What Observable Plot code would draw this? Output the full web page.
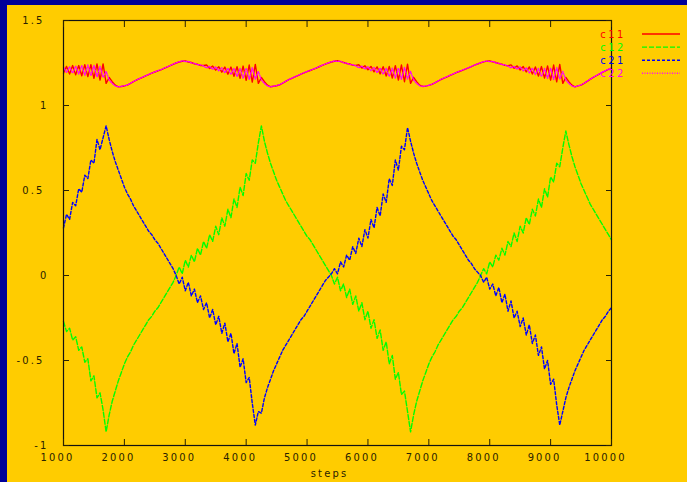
<!DOCTYPE html>
<html><head><meta charset="utf-8">
<script src="https://cdn.jsdelivr.net/npm/d3@7"></script>
<script src="https://cdn.jsdelivr.net/npm/@observablehq/plot@0.6"></script>
<style>
html,body{margin:0;padding:0;background:#000099;width:687px;height:482px;overflow:hidden}
#chart{position:absolute;left:7px;top:5px;width:680px;height:477px;background:#ffcc00;overflow:hidden}
</style></head><body><div id="chart"></div>
<script>
const steps = [1000,1050,1100,1150,1200,1250,1300,1350,1400,1450,1500,1550,1600,1650,1700,1750,1800,1850,1900,1950,
2000,2050,2100,2150,2200,2250,2300,2350,2400,2450,2500,2550,2600,2650,2700,2750,2800,2850,2900,2950,
3000,3050,3100,3150,3200,3250,3300,3350,3400,3450,3500,3550,3600,3650,3700,3750,3800,3850,3900,3950,
4000,4050,4100,4150,4200,4250,4300,4350,4400,4450,4500,4550,4600,4650,4700,4750,4800,4850,4900,4950,
5000,5050,5100,5150,5200,5250,5300,5350,5400,5450,5500,5550,5600,5650,5700,5750,5800,5850,5900,5950,
6000,6050,6100,6150,6200,6250,6300,6350,6400,6450,6500,6550,6600,6650,6700,6750,6800,6850,6900,6950,
7000,7050,7100,7150,7200,7250,7300,7350,7400,7450,7500,7550,7600,7650,7700,7750,7800,7850,7900,7950,
8000,8050,8100,8150,8200,8250,8300,8350,8400,8450,8500,8550,8600,8650,8700,8750,8800,8850,8900,8950,
9000,9050,9100,9150,9200,9250,9300,9350,9400,9450,9500,9550,9600,9650,9700,9750,9800,9850,9900,9950,10000];

const c11 = [
1.19,1.23,1.185,1.235,1.18,1.235,1.175,1.24,1.17,1.24,1.16,1.245,1.15,1.245,1.13,1.165,1.14,1.12,1.11,
1.112,1.115,1.12,1.13,1.14,1.15,1.158,1.166,1.174,1.182,1.19,1.197,1.204,1.21,1.218,1.226,1.234,1.242,1.25,1.256,
1.26,1.262,1.256,1.253,1.245,1.243,1.235,1.235,1.238,1.218,1.232,1.208,1.228,1.196,1.226,1.184,1.226,1.172,1.228,1.16,
1.232,1.148,1.238,1.138,1.242,1.13,1.165,1.14,1.12,1.11,
1.113,1.116,1.122,1.131,1.142,1.152,1.16,1.168,1.176,1.184,1.192,1.199,1.206,1.213,1.22,1.228,1.236,1.243,1.25,1.256,
1.26,1.263,1.258,1.254,1.247,1.244,1.237,1.236,1.24,1.22,1.234,1.21,1.23,1.198,1.228,1.186,1.228,1.174,1.23,1.162,
1.234,1.15,1.238,1.14,1.243,1.13,1.166,1.14,1.12,1.112,
1.114,1.118,1.124,1.133,1.143,1.153,1.161,1.169,1.177,1.185,1.193,1.2,1.207,1.214,1.221,1.229,1.237,1.244,1.251,1.257,
1.261,1.262,1.257,1.253,1.246,1.243,1.236,1.234,1.239,1.219,1.233,1.209,1.229,1.197,1.227,1.185,1.227,1.173,1.229,1.161,
1.233,1.149,1.238,1.139,1.242,1.13,1.165,1.14,1.12,1.11,
1.115,1.12,1.13,1.142,1.154,1.165,1.175,1.185,1.195,1.204,1.212,1.22];

const c12 = [
-0.27,-0.33,-0.31,-0.38,-0.36,-0.44,-0.42,-0.51,-0.49,-0.62,-0.59,-0.72,-0.69,-0.79,-0.92,
-0.82,-0.74,-0.68,-0.62,-0.57,-0.52,-0.48,-0.45,-0.41,-0.38,-0.35,-0.32,-0.29,-0.26,-0.24,-0.21,-0.19,-0.16,-0.13,-0.10,-0.07,-0.04,0.00,
0.05,0.01,0.09,0.05,0.12,0.08,0.16,0.12,0.20,0.16,0.24,0.20,0.29,0.24,0.34,0.29,0.39,0.34,0.45,0.40,0.52,0.47,0.60,0.56,0.68,0.66,0.78,0.88,
0.79,0.72,0.66,0.61,0.56,0.52,0.48,0.44,0.41,0.38,0.35,0.32,0.29,0.26,0.23,0.21,0.18,0.15,0.12,0.09,0.06,0.03,0.00,
-0.05,-0.01,-0.09,-0.05,-0.13,-0.08,-0.17,-0.12,-0.21,-0.16,-0.26,-0.21,-0.31,-0.26,-0.37,-0.32,-0.44,-0.39,-0.52,-0.47,-0.61,-0.57,-0.70,-0.68,-0.80,-0.92,
-0.82,-0.74,-0.68,-0.62,-0.57,-0.52,-0.48,-0.45,-0.41,-0.38,-0.35,-0.32,-0.29,-0.26,-0.24,-0.21,-0.19,-0.16,-0.13,-0.10,-0.07,-0.04,0.00,
0.04,0.01,0.08,0.05,0.12,0.09,0.16,0.12,0.20,0.17,0.25,0.20,0.29,0.25,0.34,0.30,0.39,0.35,0.45,0.40,0.51,0.46,0.58,0.55,0.66,0.64,0.75,0.85,
0.77,0.70,0.64,0.59,0.54,0.50,0.46,0.42,0.39,0.36,0.33,0.30,0.27,0.24,0.21];

const c21 = [
0.28,0.36,0.33,0.43,0.41,0.51,0.49,0.59,0.57,0.68,0.66,0.80,0.74,0.81,0.88,
0.80,0.73,0.67,0.62,0.57,0.52,0.48,0.45,0.41,0.38,0.35,0.32,0.29,0.26,0.24,0.21,0.19,0.16,0.13,0.10,0.07,0.04,0.00,
-0.05,-0.01,-0.09,-0.04,-0.12,-0.08,-0.16,-0.12,-0.20,-0.16,-0.25,-0.20,-0.29,-0.24,-0.34,-0.28,-0.39,-0.34,-0.46,-0.40,-0.54,-0.49,-0.63,-0.60,-0.75,-0.88,
-0.80,-0.81,-0.72,-0.66,-0.61,-0.56,-0.52,-0.48,-0.44,-0.41,-0.38,-0.35,-0.32,-0.29,-0.26,-0.24,-0.21,-0.18,-0.15,-0.12,-0.09,-0.06,-0.03,-0.01,0.01,
0.04,0.01,0.08,0.05,0.12,0.09,0.17,0.13,0.22,0.17,0.27,0.22,0.33,0.28,0.40,0.35,0.48,0.43,0.57,0.53,0.68,0.62,0.76,0.74,0.87,
0.79,0.72,0.66,0.61,0.56,0.52,0.48,0.44,0.41,0.38,0.35,0.32,0.29,0.26,0.23,0.21,0.18,0.15,0.12,0.09,0.07,0.04,0.02,0.00,
-0.04,-0.01,-0.08,-0.05,-0.12,-0.07,-0.16,-0.11,-0.21,-0.15,-0.25,-0.21,-0.30,-0.25,-0.35,-0.29,-0.40,-0.35,-0.47,-0.42,-0.55,-0.50,-0.64,-0.61,-0.76,-0.88,
-0.80,-0.72,-0.66,-0.61,-0.56,-0.52,-0.48,-0.44,-0.41,-0.38,-0.35,-0.32,-0.29,-0.26,-0.24,-0.21,-0.19];

const c22 = [
1.225,1.195,1.228,1.19,1.232,1.185,1.235,1.178,1.238,1.175,1.236,1.168,1.23,1.165,1.20,1.15,1.13,1.115,1.11,
1.113,1.116,1.121,1.131,1.141,1.151,1.159,1.167,1.175,1.183,1.191,1.198,1.205,1.211,1.219,1.227,1.235,1.243,1.251,1.257,
1.263,1.258,1.26,1.25,1.249,1.24,1.239,1.232,
1.221,1.230,1.213,1.227,1.204,1.222,1.192,1.22,1.182,1.218,1.17,1.218,1.16,1.22,1.153,1.223,1.155,
1.20,1.15,1.13,1.115,1.11,
1.114,1.117,1.123,1.132,1.143,1.153,1.161,1.169,1.177,1.185,1.193,1.2,1.207,1.214,1.221,1.229,1.237,1.244,1.251,1.257,
1.262,1.259,1.261,1.251,1.25,1.241,1.24,1.233,
1.222,1.231,1.214,1.228,1.205,1.223,1.193,1.221,1.183,1.219,1.171,1.219,1.161,1.221,1.154,1.224,1.156,
1.2,1.15,1.13,1.116,1.112,
1.115,1.119,1.125,1.134,1.144,1.154,1.162,1.17,1.178,1.186,1.194,1.201,1.208,1.215,1.222,1.23,1.238,1.245,1.252,1.258,
1.262,1.258,1.26,1.25,1.249,1.24,1.239,1.232,
1.221,1.23,1.213,1.227,1.204,1.222,1.192,1.22,1.182,1.218,1.17,1.218,1.16,1.22,1.153,1.223,1.155,
1.2,1.15,1.13,1.115,1.11,
1.116,1.121,1.131,1.143,1.155,1.166,1.176,1.186,1.196,1.205,1.213,1.221];

const seriesNames = ["c11", "c12", "c21", "c22"];
const seriesColors = ["#ff0000", "#00ff00", "#0000ff", "#ff00ff"];
const seriesDashes = [null, "5,2", "3,2", "1,1.5"];
const xTicks = [1000,2000,3000,4000,5000,6000,7000,8000,9000,10000];
const yIntTicks = [-1, 0, 1];
const yHalfTicks = [-0.5, 0.5, 1.5];
const yTicks = [-1, -0.5, 0, 0.5, 1, 1.5];
const xLabel = "steps";

const FONT = "'Liberation Sans Narrow','DejaVu Sans Condensed','Liberation Sans',sans-serif";
const seriesValues = [c11, c12, c21, c22];
const rows = seriesValues.map(vals => steps.map((s, i) => ({step: s, value: vals[i]})));

const lineMarks = rows.map((r, k) => Plot.line(r, {
  x: "step", y: "value", stroke: seriesColors[k], strokeWidth: 1.4,
  strokeDasharray: seriesDashes[k] || undefined
}));

const chart = Plot.plot({
  width: 680, height: 477,
  marginLeft: 56, marginRight: 76, marginTop: 15, marginBottom: 37,
  style: {background: "transparent", fontFamily: FONT, fontSize: "11px", letterSpacing: "2.2px", color: "#2a2200", overflow: "visible"},
  x: {domain: [1000, 10000]},
  y: {domain: [-1, 1.5]},
  marks: [
    ...lineMarks,
    Plot.frame({stroke: "#111", strokeWidth: 1.2}),
    Plot.axisX(xTicks, {anchor: "bottom", tickSize: -6, tickFormat: () => "", label: null}),
    Plot.axisX(xTicks, {anchor: "top", tickSize: -6, tickFormat: () => "", label: null}),
    Plot.axisX(xTicks, {anchor: "bottom", tickSize: 0, tickPadding: 8, dx: -6, tickFormat: d => String(d), label: null}),
    Plot.axisY(yTicks, {anchor: "left", tickSize: -6, tickFormat: () => "", label: null}),
    Plot.axisY(yTicks, {anchor: "right", tickSize: -6, tickFormat: () => "", label: null}),
    Plot.axisY(yIntTicks, {anchor: "left", tickSize: 0, tickPadding: 15, tickFormat: d => String(d), label: null}),
    Plot.axisY(yHalfTicks, {anchor: "left", tickSize: 0, tickPadding: 19, tickFormat: d => String(d), label: null}),
    Plot.text([xLabel], {frameAnchor: "bottom", text: d => d, dy: 31, dx: -8, fontSize: 11})
  ]
});
document.getElementById("chart").appendChild(chart);

const svg = d3.select(chart);
const g = svg.append("g").attr("font-family", FONT).attr("font-size", 11).attr("letter-spacing", "2.6px");
seriesNames.forEach((name, i) => {
  const y = 29 + i * 13.1;
  g.append("text").attr("x", 619).attr("y", y).attr("dy", "0.35em")
    .attr("text-anchor", "end").attr("fill", seriesColors[i]).text(name);
  const ln = g.append("line").attr("x1", 635).attr("x2", 673).attr("y1", y).attr("y2", y)
    .attr("stroke", seriesColors[i]).attr("stroke-width", 1.4);
  if (seriesDashes[i]) ln.attr("stroke-dasharray", seriesDashes[i]);
});
</script>
</body></html>
